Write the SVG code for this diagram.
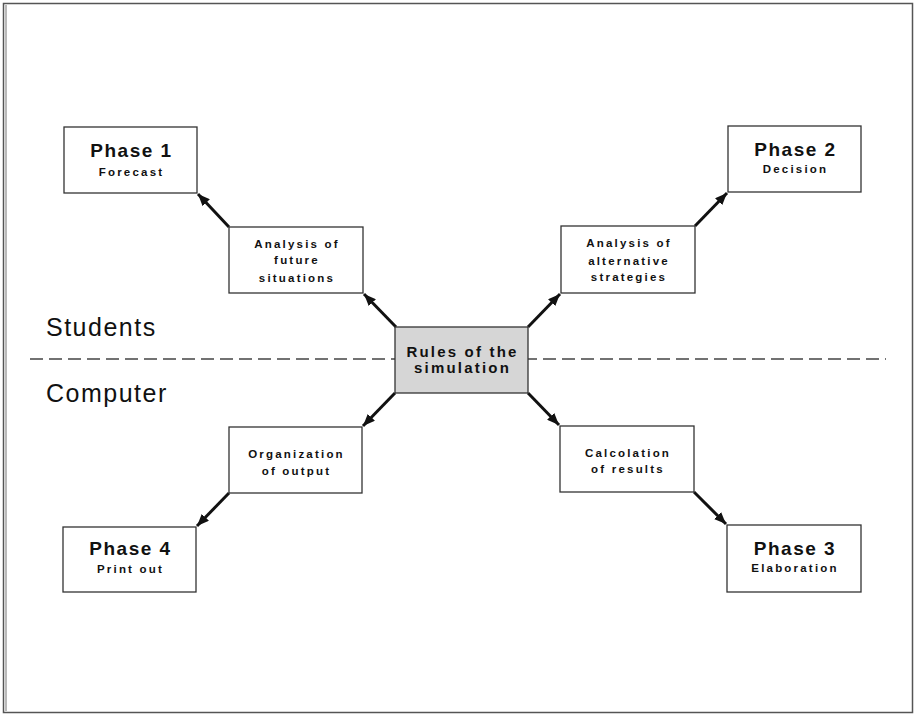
<svg xmlns="http://www.w3.org/2000/svg" width="917" height="717" viewBox="0 0 917 717">
  <defs>
    <marker id="head" viewBox="0 0 12 10" refX="12" refY="5" markerWidth="12" markerHeight="10" markerUnits="userSpaceOnUse" orient="auto">
      <path d="M0,0 L12,5 L0,10 Z" fill="#111"/>
    </marker>
    <style>
      .box { fill: #fff; stroke: #333; stroke-width: 1.3; }
      .rules { fill: #d6d6d6; stroke: #333; stroke-width: 1.3; }
      .phase { font-family: "Liberation Sans", Arial, sans-serif; font-weight: bold; font-size: 19px; letter-spacing: 1.5px; fill: #111; text-anchor: middle; }
      .sub { font-family: "Liberation Sans", Arial, sans-serif; font-weight: bold; font-size: 11.5px; letter-spacing: 2.2px; fill: #111; text-anchor: middle; }
      .mid { font-family: "Liberation Sans", Arial, sans-serif; font-weight: bold; font-size: 15px; letter-spacing: 2.2px; fill: #111; text-anchor: middle; }
      .side { font-family: "Liberation Sans", Arial, sans-serif; font-size: 25px; letter-spacing: 1.5px; fill: #111; }
      .link { stroke: #111; stroke-width: 3; fill: none; marker-end: url(#head); }
    </style>
  </defs>

  <rect width="917" height="717" fill="#fff"/>

  <!-- page frame -->
  <rect x="3.5" y="3.5" width="909" height="709" fill="none" stroke="#555" stroke-width="1.5"/>
  <line x1="6" y1="5" x2="6" y2="711" stroke="#777" stroke-width="1"/>

  <!-- boundary between the two sides -->
  <line x1="30" y1="359" x2="886" y2="359" stroke="#444" stroke-width="1.5" stroke-dasharray="13 6"/>
  <text class="side" x="46" y="336">Students</text>
  <text class="side" x="46" y="402">Computer</text>

  <g id="connectors">
    <line class="link" x1="229" y1="227" x2="198" y2="194"/>
    <line class="link" x1="396" y1="327" x2="364" y2="294"/>
    <line class="link" x1="528" y1="327" x2="560" y2="294"/>
    <line class="link" x1="695" y1="226" x2="727" y2="193"/>
    <line class="link" x1="395" y1="393" x2="363" y2="426"/>
    <line class="link" x1="229" y1="493" x2="197" y2="526"/>
    <line class="link" x1="528" y1="393" x2="559" y2="425"/>
    <line class="link" x1="694" y1="492" x2="726" y2="524"/>
  </g>

  <g id="rules">
    <rect class="rules" x="395" y="327" width="133" height="66"/>
    <text class="mid" x="462.5" y="357">Rules of the</text>
    <text class="mid" x="462.5" y="373">simulation</text>
  </g>

  <g id="phase1">
    <rect class="box" x="64" y="127" width="133" height="66"/>
    <text class="phase" x="131.5" y="157">Phase 1</text>
    <text class="sub" x="131.5" y="176">Forecast</text>
  </g>

  <g id="phase2">
    <rect class="box" x="728" y="126" width="133" height="66"/>
    <text class="phase" x="795.5" y="156">Phase 2</text>
    <text class="sub" x="795.5" y="173">Decision</text>
  </g>

  <g id="phase3">
    <rect class="box" x="727" y="525" width="134" height="67"/>
    <text class="phase" x="795" y="555">Phase 3</text>
    <text class="sub" x="795" y="572">Elaboration</text>
  </g>

  <g id="phase4">
    <rect class="box" x="63" y="527" width="133" height="65"/>
    <text class="phase" x="130.5" y="555">Phase 4</text>
    <text class="sub" x="130.5" y="573">Print out</text>
  </g>

  <g id="future">
    <rect class="box" x="229" y="227" width="134" height="66"/>
    <text class="sub" x="297" y="248">Analysis of</text>
    <text class="sub" x="297" y="264">future</text>
    <text class="sub" x="297" y="282">situations</text>
  </g>

  <g id="strategies">
    <rect class="box" x="561" y="226" width="134" height="67"/>
    <text class="sub" x="629" y="247">Analysis of</text>
    <text class="sub" x="629" y="265">alternative</text>
    <text class="sub" x="629" y="281">strategies</text>
  </g>

  <g id="output">
    <rect class="box" x="229" y="427" width="133" height="66"/>
    <text class="sub" x="296.5" y="458">Organization</text>
    <text class="sub" x="296.5" y="475">of output</text>
  </g>

  <g id="results">
    <rect class="box" x="560" y="426" width="134" height="66"/>
    <text class="sub" x="628" y="457">Calcolation</text>
    <text class="sub" x="628" y="473">of results</text>
  </g>
</svg>
